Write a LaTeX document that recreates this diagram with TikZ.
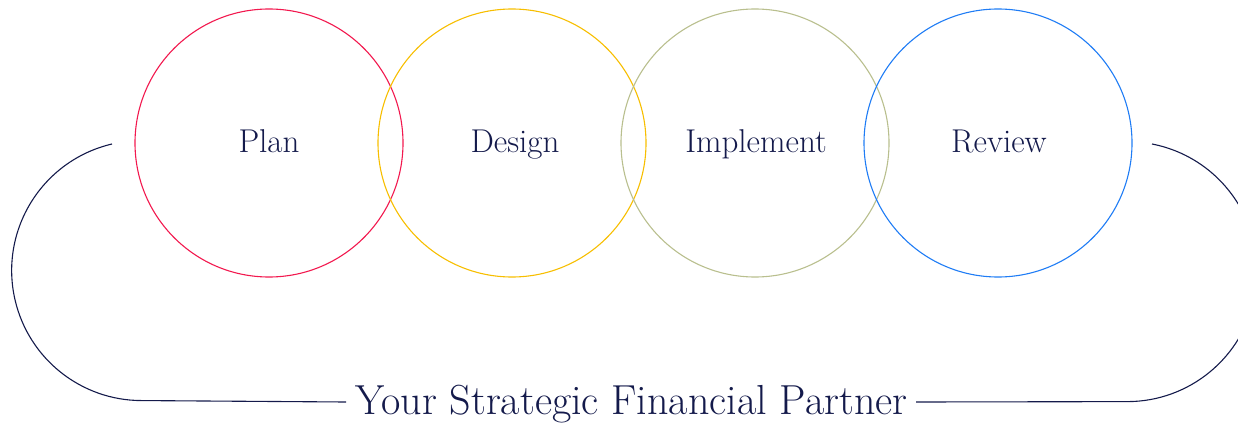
\documentclass[tikz,border=0pt]{standalone}
\definecolor{navy}{HTML}{141A4B}
\definecolor{cred}{HTML}{F2184E}
\definecolor{cyellow}{HTML}{F7BE00}
\definecolor{colive}{HTML}{B9BF8E}
\definecolor{cblue}{HTML}{1F7CF5}
\tikzset{
  stage/.style={circle, draw=#1, line width=1.1pt, minimum size=268pt, inner sep=0pt},
  stagelabel/.style={anchor=base, text=navy, inner sep=0pt, font=\fontsize{33}{36}\selectfont},
  loopline/.style={draw=navy, line width=1.1pt},
}
\begin{document}
\begin{tikzpicture}[x=1pt,y=1pt]
\clip (0,0) rectangle (1238,424);
\useasboundingbox (0,0) rectangle (1238,424);
\node[stage=cred] (plan) at (269,281) {};
\node[stage=cyellow] (design) at (512,281) {};
\node[stage=colive] (impl) at (755,281) {};
\node[stage=cblue] (review) at (998,281) {};
\node[stagelabel] (planlbl) at (269,272) {Plan};
\node[stagelabel] (designlbl) at (515,272) {Design};
\node[stagelabel] (impllbl) at (756,272) {Implement};
\node[stagelabel] (reviewlbl) at (999,272) {Review};
\node[anchor=base, text=navy, inner sep=0pt, font=\fontsize{42}{44}\selectfont] (title) at (631.5,10) {Your Strategic Financial Partner};
\coordinate (lstart) at (112,280);
\coordinate (rstart) at (1152,280);
\coordinate (lend) at (346,22);
\coordinate (rend) at (916,22);
\draw[loopline] (lstart) arc[start angle=103.2, end angle=270, radius=130] -- (lend);
\draw[loopline] (rstart) arc[start angle=79, end angle=-90, radius=130] -- (rend);
\end{tikzpicture}
\end{document}
